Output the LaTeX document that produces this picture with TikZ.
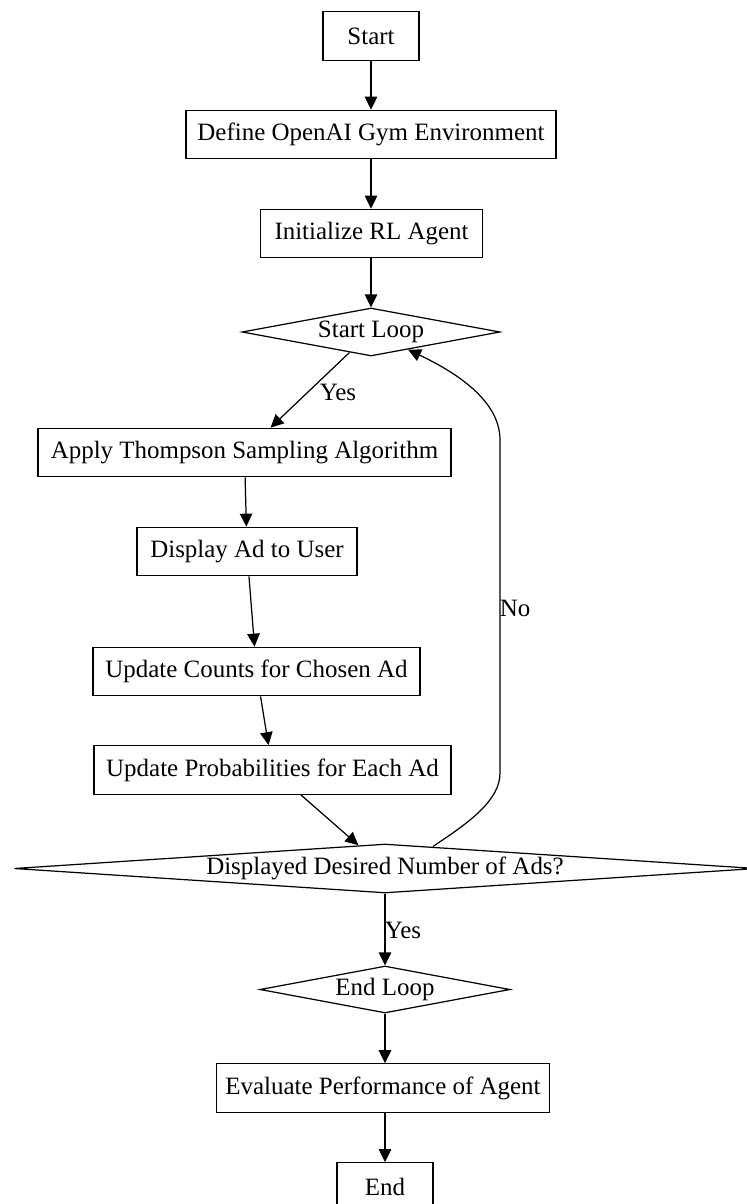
\documentclass[tikz,border=0pt]{standalone}
\usepackage{fontspec}
\setmainfont{Liberation Serif}
\usetikzlibrary{shapes.geometric,arrows.meta}

\begin{document}
\begin{tikzpicture}[x=0.02cm, y=-0.02cm, line width=0.7pt,
    font=\fontsize{14.2}{17}\selectfont,
    box/.style={draw, rectangle, minimum height=0.97cm, inner sep=0pt},
    decision/.style={draw, diamond, inner sep=0pt},
    flow/.style={-{Triangle[length=0.26cm, width=0.25cm]}}]
  % page frame
  \useasboundingbox (0,0) rectangle (747,1204);
  % top part
  \node[box, minimum width=1.92cm] (start) at (371,36) {Start};
  \node[box, minimum width=7.40cm] (define) at (371,134.5) {Define OpenAI Gym Environment};
  \node[box, minimum width=4.44cm] (init) at (371.5,233.5) {Initialize RL Agent};
  \node[decision, aspect=5.4, minimum width=5.16cm, minimum height=0.96cm] (sloop) at (371,332) {Start Loop};
  % loop body
  \node[box, minimum width=8.26cm] (apply) at (244.5,452.5) {Apply Thompson Sampling Algorithm};
  \node[box, minimum width=4.40cm] (display) at (247,551.5) {Display Ad to User};
  \node[box, minimum width=6.54cm] (counts) at (256.5,671.5) {Update Counts for Chosen Ad};
  \node[box, minimum width=7.14cm] (probs) at (272.5,770) {Update Probabilities for Each Ad};
  \node[decision, aspect=15, minimum width=14.84cm, minimum height=0.98cm] (check) at (385,868.5) {Displayed Desired Number of Ads?};
  % bottom part
  \node[decision, aspect=5.3, minimum width=5.00cm, minimum height=0.94cm] (eloop) at (385,989.5) {End Loop};
  \node[box, minimum width=6.66cm] (evaluate) at (383,1088) {Evaluate Performance of Agent};
  \node[box, minimum width=1.92cm] (stop) at (385,1187) {End};
  % edge labels
  \node (yes1) at (338,392) {Yes};
  \node (no) at (515,608) {No};
  \node (yes2) at (403,930) {Yes};
  % arrows
  \draw[flow] (start) -- (define);
  \draw[flow] (define) -- (define |- init.north);
  \draw[flow] (init.south -| sloop) -- (sloop);
  \draw[flow] (sloop) -- (apply);
  \draw[flow] (apply) -- (display);
  \draw[flow] (display) -- (counts);
  \draw[flow] (counts) -- (probs);
  \draw[flow] (probs) -- (check);
  \draw[flow] (check) -- (eloop);
  \draw[flow] (eloop) -- (eloop |- evaluate.north);
  \draw[flow] (evaluate.south -| stop) -- (stop);
  % back edge (No)
  \draw[flow] ([shift={(48,3)}]check.north) .. controls (470,822) and (500,800) .. (500,773)
    -- (500,440) .. controls (500,400) and (455,372) .. ([shift={(37,-7)}]sloop.south);
\end{tikzpicture}
\end{document}
